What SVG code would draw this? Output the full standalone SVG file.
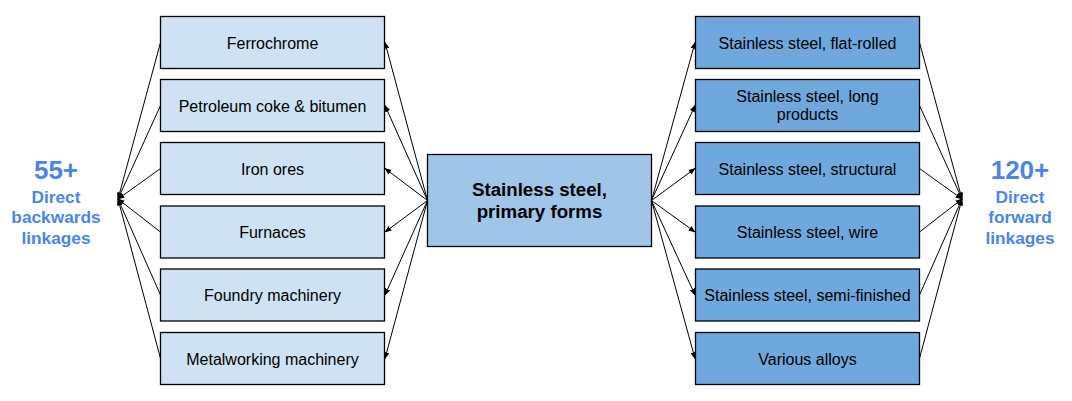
<svg xmlns="http://www.w3.org/2000/svg" width="1072" height="401" viewBox="0 0 1072 401">
<defs>
<marker id="ah" viewBox="0 0 10 10" refX="9" refY="5" markerWidth="7" markerHeight="7" markerUnits="userSpaceOnUse" orient="auto"><path d="M0,1 L10,5 L0,9 z" fill="#000"/></marker>
<style>
.l{fill:#cfe2f3;stroke:#000;stroke-width:1.3}
.c{fill:#9fc5e8;stroke:#000;stroke-width:1.3}
.r{fill:#6fa8dc;stroke:#000;stroke-width:1.3}
.t{font-family:"Liberation Sans",Arial,sans-serif;font-size:16px;fill:#000;text-anchor:middle}
.tb{font-family:"Liberation Sans",Arial,sans-serif;font-size:18.7px;font-weight:bold;fill:#000;text-anchor:middle}
.big{font-family:"Liberation Sans",Arial,sans-serif;font-size:26px;font-weight:bold;fill:#4a86e8;text-anchor:middle}
.sm{font-family:"Liberation Sans",Arial,sans-serif;font-size:17.3px;font-weight:bold;fill:#4a86e8;text-anchor:middle}
.e{stroke:#000;stroke-width:1;fill:none;marker-end:url(#ah)}
</style>
</defs>
<rect width="1072" height="401" fill="#fff"/>
<g id="connectors">
<line class="e" x1="160.5" y1="42.5" x2="118" y2="199"/>
<line class="e" x1="160.5" y1="105.5" x2="118" y2="199"/>
<line class="e" x1="160.5" y1="168.5" x2="118" y2="199"/>
<line class="e" x1="160.5" y1="232" x2="118" y2="199"/>
<line class="e" x1="160.5" y1="295" x2="118" y2="199"/>
<line class="e" x1="160.5" y1="358.5" x2="118" y2="199"/>
<line class="e" x1="427.5" y1="200.5" x2="385" y2="42.5"/>
<line class="e" x1="427.5" y1="200.5" x2="385" y2="105.5"/>
<line class="e" x1="427.5" y1="200.5" x2="385" y2="168.5"/>
<line class="e" x1="427.5" y1="200.5" x2="385" y2="232"/>
<line class="e" x1="427.5" y1="200.5" x2="385" y2="295"/>
<line class="e" x1="427.5" y1="200.5" x2="385" y2="358.5"/>
<line class="e" x1="651.5" y1="200.5" x2="695" y2="42.5"/>
<line class="e" x1="651.5" y1="200.5" x2="695" y2="105.5"/>
<line class="e" x1="651.5" y1="200.5" x2="695" y2="168.5"/>
<line class="e" x1="651.5" y1="200.5" x2="695" y2="232"/>
<line class="e" x1="651.5" y1="200.5" x2="695" y2="295"/>
<line class="e" x1="651.5" y1="200.5" x2="695" y2="358.5"/>
<line class="e" x1="919.5" y1="42.5" x2="962" y2="199"/>
<line class="e" x1="919.5" y1="105.5" x2="962" y2="199"/>
<line class="e" x1="919.5" y1="168.5" x2="962" y2="199"/>
<line class="e" x1="919.5" y1="232" x2="962" y2="199"/>
<line class="e" x1="919.5" y1="295" x2="962" y2="199"/>
<line class="e" x1="919.5" y1="358.5" x2="962" y2="199"/>
</g>
<g id="n-ferrochrome"><rect class="l" x="160.5" y="16.5" width="224" height="52"/><text class="t" x="272.5" y="48.5">Ferrochrome</text></g>
<g id="n-petroleum"><rect class="l" x="160.5" y="79.5" width="224" height="52"/><text class="t" x="272.5" y="111.5">Petroleum coke &amp; bitumen</text></g>
<g id="n-iron"><rect class="l" x="160.5" y="142.5" width="224" height="52"/><text class="t" x="272.5" y="174.5">Iron ores</text></g>
<g id="n-furnaces"><rect class="l" x="160.5" y="206" width="224" height="52"/><text class="t" x="272.5" y="238">Furnaces</text></g>
<g id="n-foundry"><rect class="l" x="160.5" y="269" width="224" height="52"/><text class="t" x="272.5" y="301">Foundry machinery</text></g>
<g id="n-metalworking"><rect class="l" x="160.5" y="332.5" width="224" height="52"/><text class="t" x="272.5" y="364.5">Metalworking machinery</text></g>
<g id="n-center"><rect class="c" x="427.5" y="154.5" width="224" height="92"/><text class="tb" x="539.5" y="196">Stainless steel,</text><text class="tb" x="539.5" y="218">primary forms</text></g>
<g id="n-flat"><rect class="r" x="695.5" y="16.5" width="224" height="52"/><text class="t" x="807.5" y="48.5">Stainless steel, flat-rolled</text></g>
<g id="n-long"><rect class="r" x="695.5" y="79.5" width="224" height="52"/><text class="t" x="807.5" y="102">Stainless steel, long</text><text class="t" x="807.5" y="120">products</text></g>
<g id="n-structural"><rect class="r" x="695.5" y="142.5" width="224" height="52"/><text class="t" x="807.5" y="174.5">Stainless steel, structural</text></g>
<g id="n-wire"><rect class="r" x="695.5" y="206" width="224" height="52"/><text class="t" x="807.5" y="238">Stainless steel, wire</text></g>
<g id="n-semi"><rect class="r" x="695.5" y="269" width="224" height="52"/><text class="t" x="807.5" y="301">Stainless steel, semi-finished</text></g>
<g id="n-alloys"><rect class="r" x="695.5" y="332.5" width="224" height="52"/><text class="t" x="807.5" y="364.5">Various alloys</text></g>
<g id="n-backward"><text class="big" x="56" y="178.5">55+</text><text class="sm" x="56" y="202.5">Direct</text><text class="sm" x="56" y="223">backwards</text><text class="sm" x="56" y="243.5">linkages</text></g>
<g id="n-forward"><text class="big" x="1020" y="178.5">120+</text><text class="sm" x="1020" y="202.5">Direct</text><text class="sm" x="1020" y="223">forward</text><text class="sm" x="1020" y="243.5">linkages</text></g>
</svg>
